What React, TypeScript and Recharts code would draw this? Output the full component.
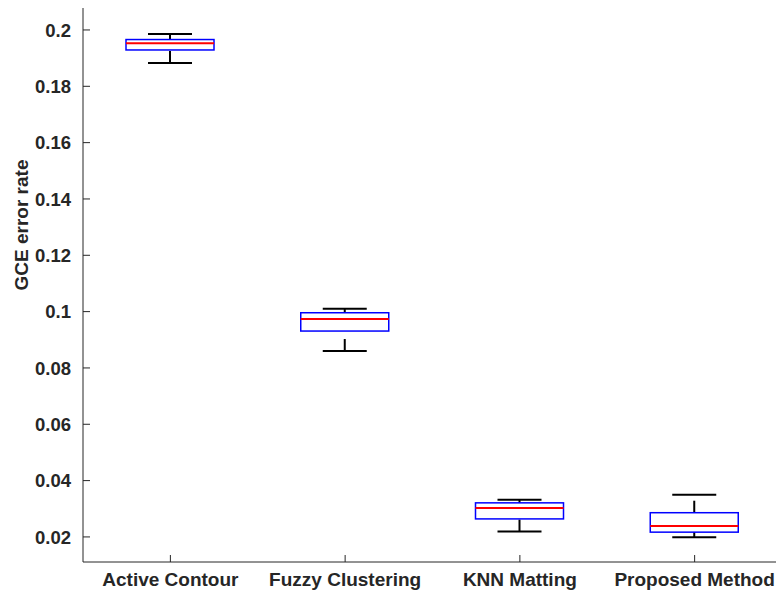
import { ComposedChart, Bar, XAxis, YAxis } from "recharts";

const categories = ["Active Contour", "Fuzzy Clustering", "KNN Matting", "Proposed Method"];
const lowerWhisker = [0.1883, 0.086, 0.0219, 0.0199];
const q1 = [0.1929, 0.0931, 0.0264, 0.0217];
const median = [0.1953, 0.0974, 0.0303, 0.0239];
const q3 = [0.1966, 0.0996, 0.0321, 0.0286];
const upperWhisker = [0.1986, 0.101, 0.0332, 0.035];
const yTicks = [0.02, 0.04, 0.06, 0.08, 0.1, 0.12, 0.14, 0.16, 0.18, 0.2];

const data = categories.map((name, i) => ({
  name,
  range: [lowerWhisker[i], upperWhisker[i]],
  lw: lowerWhisker[i],
  q1: q1[i],
  med: median[i],
  q3: q3[i],
  uw: upperWhisker[i],
}));

const FONT = "'Liberation Sans', Arial, sans-serif";
const AXIS = "#262626";

function BoxShape(props: any) {
  const { x, y, width, height, payload } = props;
  const top = Math.min(y, y + height);
  const bottom = Math.max(y, y + height);
  const span = payload.uw - payload.lw;
  // the bar spans lw..uw through the y scale; inner values are placed linearly within it
  const py = (v: number) => bottom - ((v - payload.lw) / span) * (bottom - top);
  const cx = x + width / 2;
  const capHalf = width / 4;
  const yq1 = py(payload.q1);
  const yq3 = py(payload.q3);
  const ym = py(payload.med);
  return (
    <g>
      {/* whiskers, drawn from the lower end upward so the dash starts there */}
      <line x1={cx} y1={yq3} x2={cx} y2={top} stroke="#000" strokeWidth={2} strokeDasharray="12 8" />
      <line x1={cx} y1={bottom} x2={cx} y2={yq1} stroke="#000" strokeWidth={2} strokeDasharray="12 8" />
      <line x1={cx - capHalf} y1={top} x2={cx + capHalf} y2={top} stroke="#000" strokeWidth={2} />
      <line x1={cx - capHalf} y1={bottom} x2={cx + capHalf} y2={bottom} stroke="#000" strokeWidth={2} />
      <rect x={x} y={yq3} width={width} height={yq1 - yq3} fill="none" stroke="#0000ff" strokeWidth={1.5} />
      <line x1={x} y1={ym} x2={x + width} y2={ym} stroke="#ff0000" strokeWidth={2} />
    </g>
  );
}

export default function App() {
  return (
    <div
      style={{
        position: "absolute",
        left: 0,
        top: 0,
        width: 776,
        height: 596,
        overflow: "hidden",
        background: "#fff",
      }}
    >
      <ComposedChart
        width={800}
        height={596}
        data={data}
        margin={{ top: 8, right: 18, bottom: 0, left: 0 }}
      >
        <XAxis
          dataKey="name"
          axisLine={{ stroke: AXIS, strokeWidth: 1 }}
          tickLine={{ stroke: AXIS }}
          tickSize={-7}
          tickMargin={18}
          height={34}
          interval={0}
          tick={{ fill: AXIS, fontSize: 19, fontWeight: "bold", fontFamily: FONT }}
        />
        <XAxis
          xAxisId="top"
          dataKey="name"
          orientation="top"
          height={0}
          tick={false}
          tickLine={false}
          axisLine={{ stroke: AXIS, strokeWidth: 1 }}
        />
        <YAxis
          type="number"
          domain={[0.0111, 0.2078]}
          ticks={yTicks}
          allowDataOverflow
          width={83}
          axisLine={{ stroke: AXIS, strokeWidth: 1 }}
          tickLine={{ stroke: AXIS }}
          tickSize={-7}
          tickMargin={19}
          tickFormatter={(v: number) => String(Number(v.toFixed(2)))}
          tick={{ fill: AXIS, fontSize: 18.5, fontWeight: "bold", fontFamily: FONT }}
          label={() => (
            <text
              x={21}
              y={225}
              transform="rotate(-90, 21, 225)"
              textAnchor="middle"
              dominantBaseline="central"
              fill={AXIS}
              fontSize={19}
              fontWeight="bold"
              fontFamily={FONT}
            >
              GCE error rate
            </text>
          )}
        />
        <Bar dataKey="range" barSize={88} shape={BoxShape} isAnimationActive={false} />
      </ComposedChart>
    </div>
  );
}
